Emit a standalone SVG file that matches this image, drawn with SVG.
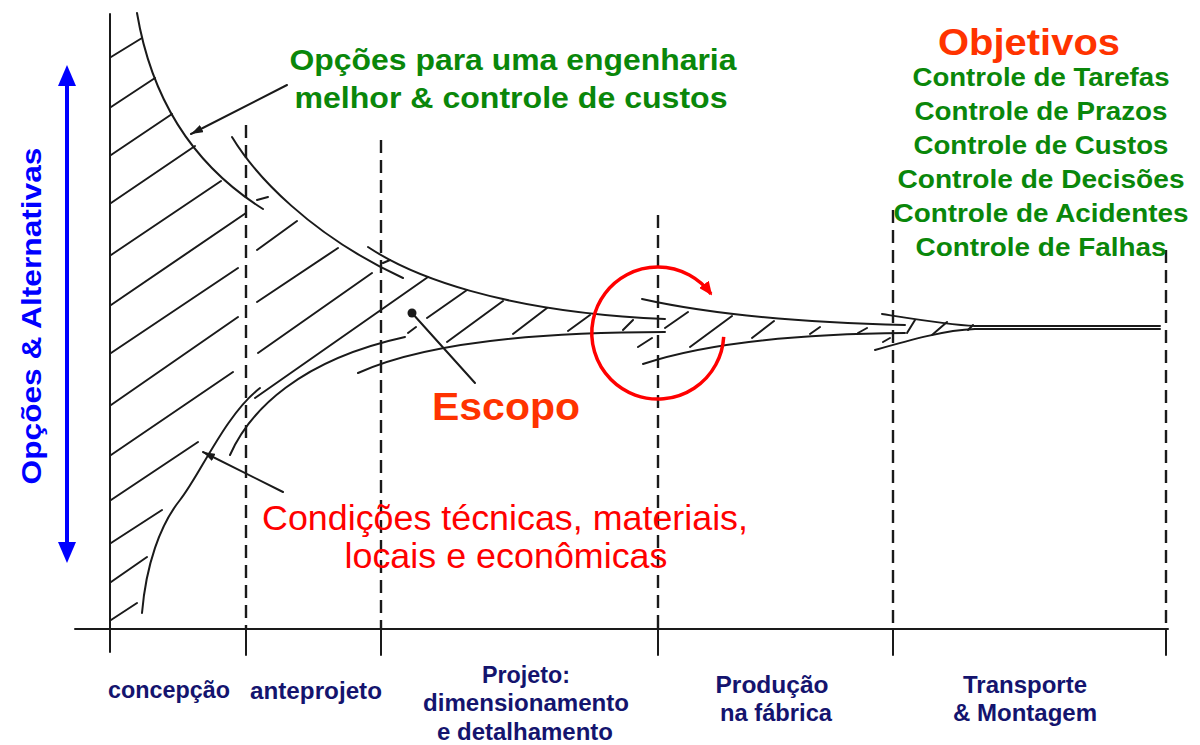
<svg xmlns="http://www.w3.org/2000/svg" width="1200" height="745" viewBox="0 0 1200 745">
<style>
.ln{fill:none;stroke:#1a1a1a;stroke-width:2;stroke-linecap:round}
.ds{fill:none;stroke:#1a1a1a;stroke-width:2.4;stroke-dasharray:13 7}
.t{font-family:"Liberation Sans",Arial,sans-serif}
.b{font-weight:bold}
.green{fill:#0a870a}
.navy{fill:#14146e}
.orange{fill:#ff3300}
.red{fill:#ff0000}
</style>
<defs>
<marker id="ah" viewBox="0 0 12 8" refX="12" refY="4" markerWidth="12" markerHeight="8" markerUnits="userSpaceOnUse" orient="auto">
<path d="M0,0 L12,4 L0,8 z" fill="#1a1a1a"/>
</marker>
<marker id="rah" viewBox="0 0 14 12" refX="12" refY="6" markerWidth="14" markerHeight="12" markerUnits="userSpaceOnUse" orient="auto">
<path d="M0,0 L14,6 L0,12 z" fill="#ff0000"/>
</marker>
</defs>
<rect width="1200" height="745" fill="#ffffff"/>

<g id="axes">
<path class="ln" d="M110,14 L110,652"/>
<path class="ln" d="M75,629 L1168,629"/>
<path class="ln" d="M246,629 L246,655 M381,629 L381,655 M658,629 L658,655 M893,629 L893,655 M1166,629 L1166,655"/>
<path class="ds" d="M246,125 L246,629 M381,140 L381,629 M658,215 L658,629 M893,210 L893,629 M1166,250 L1166,629"/>
</g>

<g id="scope-curves">
<path class="ln" d="M137,13 C150,90 185,160 263,209"/>
<path class="ln" d="M232,137 C255,175 310,235 403,278"/>
<path class="ln" d="M368,247 C410,275 500,312 665,319"/>
<path class="ln" d="M642,299 C700,312 780,322 905,325"/>
<path class="ln" d="M882,314 C920,320 950,325 975,326 L1160,326"/>
<path class="ln" d="M142,613 C146,565 160,525 180,500 S225,415 260,388"/>
<path class="ln" d="M230,455 C250,410 300,360 405,337"/>
<path class="ln" d="M358,373 C420,345 520,332 665,332"/>
<path class="ln" d="M643,364 C700,345 780,334 905,333"/>
<path class="ln" d="M875,350 C910,340 945,330 975,329 L1160,329"/>
</g>

<g id="hatching">
<path class="ln" d="M111,57 L142,38 M111,107 L155,78 M111,155 L172,114 M111,203 L195,146 M111,255 L221,181 M111,305 L246,213 M111,353 L238,268 M111,405 L238,317 M111,455 L233,372 M111,500 L198,442 M111,543 L162,510 M111,582 L147,557 M111,620 L137,603"/>
<path class="ln" d="M257,250 L297,221 M257,302 L338,248 M258,353 L372,273 M255,398 L428,277 M257,200 L268,197 M383,263 L390,260"/>
<path class="ln" d="M408,333 L416,327 M427,318 L467,290 M447,342 L503,301 M513,334 L547,308 M568,331 L590,315 M623,330 L633,320"/>
<path class="ln" d="M665,328 L688,312 M638,347 L652,338 M690,347 L732,316 M752,338 L774,321 M810,334 L820,327 M858,333 L867,328"/>
<path class="ln" d="M907,333 L915,320 M932,335 L947,322 M968,330 L973,325 M883,342 L890,338"/>
</g>

<g id="vertical-axis-label">
<line x1="67" y1="82" x2="67" y2="546" stroke="#0000ff" stroke-width="4"/>
<polygon points="67,65 58,86 76,86" fill="#0000ff"/>
<polygon points="67,563 58,542 76,542" fill="#0000ff"/>
<text class="t b" x="0" y="0" transform="translate(41,316) rotate(-90)" text-anchor="middle" font-size="27" fill="#0000ff" textLength="337" lengthAdjust="spacingAndGlyphs">Opções &amp; Alternativas</text>
</g>

<g id="connectors">
<line class="ln" x1="287" y1="85" x2="191" y2="134" marker-end="url(#ah)"/>
<line class="ln" x1="283" y1="492" x2="203" y2="452" marker-end="url(#ah)"/>
<circle cx="412" cy="313" r="4.5" fill="#1a1a1a"/>
<line class="ln" x1="412" y1="313" x2="475" y2="383"/>
<path d="M723.7,336.8 A66,66 0 1 1 711,294" fill="none" stroke="#ff0000" stroke-width="3.5" marker-end="url(#rah)"/>
</g>

<g id="label-options">
<text class="t b green" x="513" y="70" text-anchor="middle" font-size="30" textLength="447" lengthAdjust="spacingAndGlyphs">Opções para uma engenharia</text>
<text class="t b green" x="511" y="108" text-anchor="middle" font-size="30" textLength="433" lengthAdjust="spacingAndGlyphs">melhor &amp; controle de custos</text>
</g>

<g id="label-objetivos">
<text class="t b orange" x="1029" y="55" text-anchor="middle" font-size="37" textLength="182" lengthAdjust="spacingAndGlyphs">Objetivos</text>
<text class="t b green" x="1041" y="86" text-anchor="middle" font-size="25" textLength="257" lengthAdjust="spacingAndGlyphs">Controle de Tarefas</text>
<text class="t b green" x="1041" y="120" text-anchor="middle" font-size="25" textLength="253" lengthAdjust="spacingAndGlyphs">Controle de Prazos</text>
<text class="t b green" x="1041" y="154" text-anchor="middle" font-size="25" textLength="255" lengthAdjust="spacingAndGlyphs">Controle de Custos</text>
<text class="t b green" x="1041" y="188" text-anchor="middle" font-size="25" textLength="287" lengthAdjust="spacingAndGlyphs">Controle de Decisões</text>
<text class="t b green" x="1041" y="222" text-anchor="middle" font-size="25" textLength="295" lengthAdjust="spacingAndGlyphs">Controle de Acidentes</text>
<text class="t b green" x="1041" y="256" text-anchor="middle" font-size="25" textLength="251" lengthAdjust="spacingAndGlyphs">Controle de Falhas</text>
</g>

<g id="label-escopo">
<text class="t b orange" x="506" y="420" text-anchor="middle" font-size="38" textLength="148" lengthAdjust="spacingAndGlyphs">Escopo</text>
</g>

<g id="label-condicoes">
<text class="t red" x="505" y="530" text-anchor="middle" font-size="35" textLength="486" lengthAdjust="spacingAndGlyphs">Condições técnicas, materiais,</text>
<text class="t red" x="506" y="568" text-anchor="middle" font-size="35" textLength="323" lengthAdjust="spacingAndGlyphs">locais e econômicas</text>
</g>

<g id="phase-labels">
<text class="t b navy" x="169" y="698" text-anchor="middle" font-size="23" textLength="122" lengthAdjust="spacingAndGlyphs">concepção</text>
<text class="t b navy" x="316" y="699" text-anchor="middle" font-size="23" textLength="132" lengthAdjust="spacingAndGlyphs">anteprojeto</text>
<text class="t b navy" x="526" y="683" text-anchor="middle" font-size="23" textLength="88" lengthAdjust="spacingAndGlyphs">Projeto:</text>
<text class="t b navy" x="526" y="711" text-anchor="middle" font-size="23" textLength="206" lengthAdjust="spacingAndGlyphs">dimensionamento</text>
<text class="t b navy" x="525" y="740" text-anchor="middle" font-size="23" textLength="176" lengthAdjust="spacingAndGlyphs">e detalhamento</text>
<text class="t b navy" x="772" y="693" text-anchor="middle" font-size="23" textLength="113" lengthAdjust="spacingAndGlyphs">Produção</text>
<text class="t b navy" x="776" y="721" text-anchor="middle" font-size="23" textLength="112" lengthAdjust="spacingAndGlyphs">na fábrica</text>
<text class="t b navy" x="1025" y="693" text-anchor="middle" font-size="23" textLength="124" lengthAdjust="spacingAndGlyphs">Transporte</text>
<text class="t b navy" x="1025" y="721" text-anchor="middle" font-size="23" textLength="144" lengthAdjust="spacingAndGlyphs">&amp; Montagem</text>
</g>
</svg>
